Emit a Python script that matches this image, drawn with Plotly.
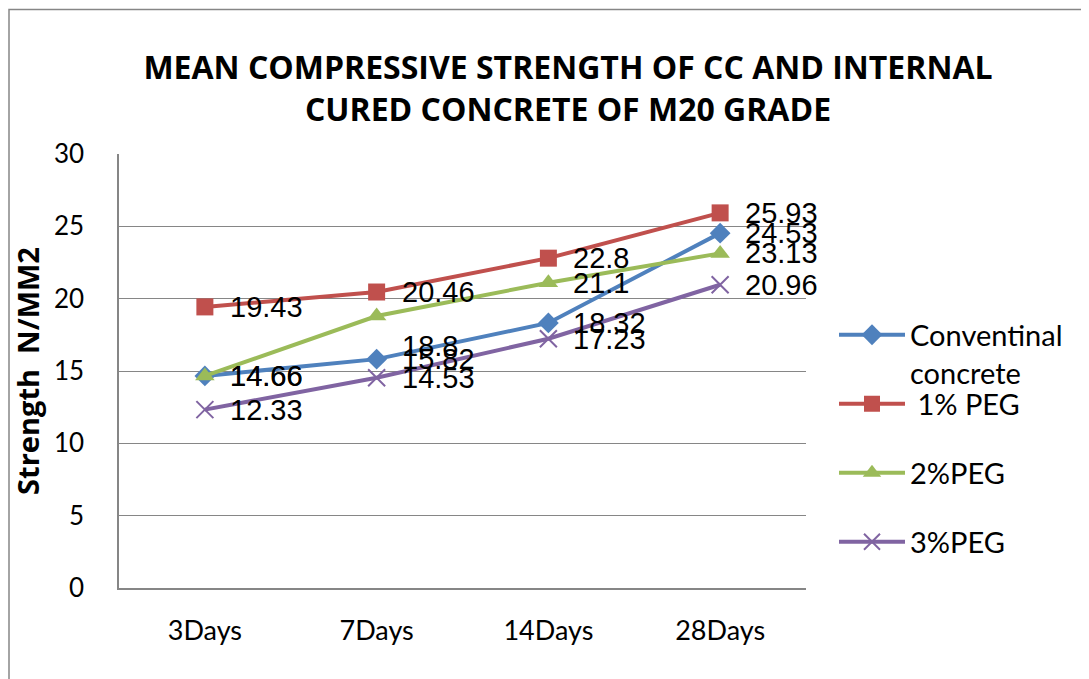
import plotly.graph_objects as go

categories = ["3Days", "7Days", "14Days", "28Days"]
conventional = [14.66, 15.82, 18.32, 24.53]
peg1 = [19.43, 20.46, 22.8, 25.93]
peg2 = [14.66, 18.8, 21.1, 23.13]
peg3 = [12.33, 14.53, 17.23, 20.96]
series_names = ["Conventinal<br>concrete", " 1% PEG", "2%PEG", "3%PEG"]
y_ticks = [0, 5, 10, 15, 20, 25, 30]

series = [conventional, peg1, peg2, peg3]
colors = ["#4F81BD", "#C0504D", "#9BBB59", "#8064A2"]
symbols = ["diamond", "square", "triangle-up", "x-thin"]
msizes = [16, 17, 17, 17]
label_yshift = [[0, 0, 0, 0], [0, 0, 0, 0], [0, -30, 0, 0], [0, 0, 0, 0]]

# page body has an 8px margin
OFF = 8
W, H = 1089, 679
L, T = 119 - OFF, 154 - OFF
R = W - (806 - OFF)
B = H - (588 - OFF)
pw, ph = W - L - R, H - T - B

fig = go.Figure()
legend_names = ["legend", "legend2", "legend3", "legend4"]
legend_py = [335, 404, 473, 542]

for i, (vals, name) in enumerate(zip(series, series_names)):
    marker = dict(symbol=symbols[i], size=msizes[i], color=colors[i])
    if symbols[i] == "x-thin":
        marker["line"] = dict(color=colors[i], width=2)
    fig.add_trace(go.Scatter(
        x=categories, y=vals, name=name, mode="lines+markers",
        line=dict(color=colors[i], width=4), marker=marker,
        legend=legend_names[i],
    ))
    for j, v in enumerate(vals):
        fig.add_annotation(x=categories[j], y=v, text=str(v), showarrow=False,
                           xanchor="left", yanchor="middle", xshift=23,
                           yshift=label_yshift[i][j],
                           font=dict(family="Liberation Sans", size=29, color="black"))

layout_legends = {}
for i, ln in enumerate(legend_names):
    layout_legends[ln] = dict(
        x=(834 - L - OFF) / pw, xanchor="left",
        y=(H - B - (legend_py[i] - OFF)) / ph + 0.059, yanchor="top",
        font=dict(family="Lato", size=29, color="black"),
        bgcolor="rgba(0,0,0,0)", valign="top", itemwidth=66,
    )

fig.update_layout(
    width=W, height=H,
    margin=dict(l=L, r=R, t=T, b=B),
    paper_bgcolor="white", plot_bgcolor="white",
    showlegend=True,
    title=dict(text="MEAN COMPRESSIVE STRENGTH OF CC AND INTERNAL<br>CURED CONCRETE OF M20 GRADE",
               x=(568 - OFF) / W, xanchor="center", y=1 - (79 - OFF) / H, yanchor="middle",
               font=dict(family="Open Sans", size=32, color="black", weight="bold")),
    xaxis=dict(type="category", range=[-0.5, 3.5], showgrid=False,
               showline=True, linecolor="#868686", linewidth=1.5,
               tickfont=dict(family="Lato", size=27, color="black"), ticks="",
               ticklabelstandoff=18),
    yaxis=dict(range=[0, 30], tickvals=y_ticks, showgrid=True, gridcolor="#868686",
               gridwidth=1.2, showline=True, linecolor="#868686", linewidth=1.5,
               zeroline=False, ticks="", ticklabelstandoff=28,
               tickfont=dict(family="Lato", size=26, color="black"),
               title=dict(text="Strength  N/MM2", standoff=12,
                          font=dict(family="Open Sans", size=29, color="black", weight="bold"))),
    **layout_legends,
)

fig.add_shape(type="rect", xref="paper", yref="paper",
              x0=(9 - OFF - L) / pw, x1=(W + 20 - L) / pw,
              y0=(H - B - (H + 20)) / ph, y1=(H - B - (9.5 - OFF)) / ph,
              line=dict(color="#868686", width=1.5), layer="below")

fig.write_html("out.html")
